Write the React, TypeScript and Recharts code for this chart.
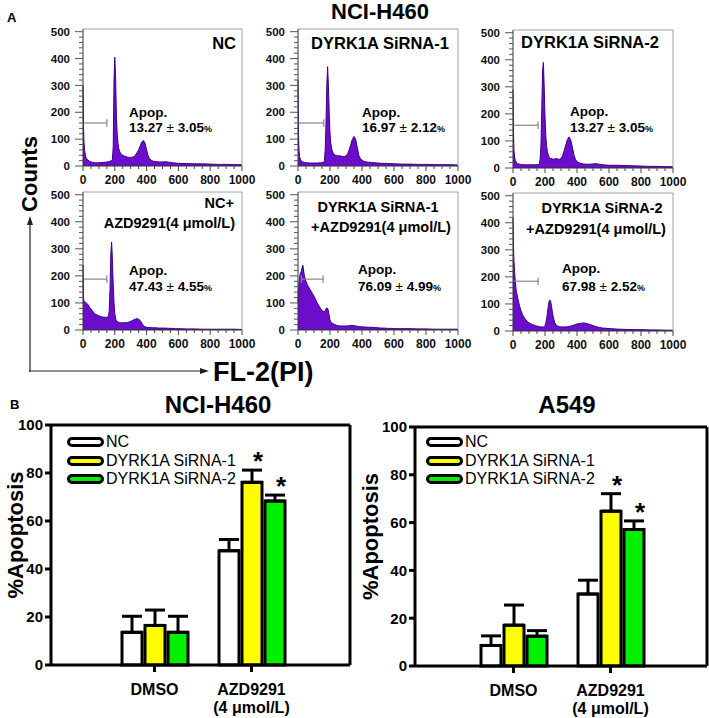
import React from 'react';
import {
  AreaChart,
  Area,
  BarChart,
  Bar,
  ErrorBar,
  LabelList,
  Legend,
  Label,
  XAxis,
  YAxis,
  ReferenceLine,
} from 'recharts';

const FONT = '"Liberation Sans", Arial, Helvetica, sans-serif';

// ---- panel A: PI histograms (channel -> counts) ----
const histChannels = [
  0, 3, 6, 10, 15, 20,
  30, 40, 50, 60, 70, 80, 90, 100,
  120, 140, 150, 160,
  165, 170, 175, 180, 185, 190, 195, 200, 205, 210, 215, 220, 225, 230, 235, 240, 245, 250,
  260, 270, 280, 290, 300, 310, 320, 330, 340, 350, 360, 370, 380, 390, 400, 410, 420,
  440, 460, 480, 500, 520, 540, 560, 580, 600,
  650, 700, 750, 800, 850, 900, 950, 1000,
];

const ncCounts = [
  300, 150, 90, 60, 40, 30,
  22, 18, 15, 14, 13, 12, 12, 12,
  13, 14, 15, 16,
  17, 18, 19, 20, 25, 70, 320, 405, 330, 190, 120, 85, 65, 55, 50, 45, 42, 40,
  37, 35, 33, 32, 32, 33, 35, 40, 50, 60, 75, 90, 95, 85, 60, 38, 25,
  18, 16, 15, 15, 16, 14, 12, 11, 10,
  9, 8, 8, 7, 6, 6, 5, 5,
];

const si1Counts = [
  320, 120, 60, 35, 25, 20,
  15, 13, 12, 12, 11, 11, 11, 11,
  11, 12, 12, 13,
  20, 60, 160, 300, 370, 300, 200, 120, 85, 65, 55, 48, 45, 42, 40, 40, 38, 38,
  38, 37, 35, 35, 38, 45, 60, 80, 100, 110, 100, 70, 40, 28, 22, 18, 16,
  14, 13, 12, 11, 10, 10, 9, 9, 8,
  7, 7, 6, 6, 5, 5, 5, 4,
];

const si2Counts = [
  290, 130, 65, 40, 28, 22,
  16, 14, 13, 12, 12, 12, 12, 12,
  12, 12, 12, 13,
  15, 35, 90, 220, 360, 390, 300, 190, 120, 80, 60, 50, 42, 38, 35, 35, 33, 33,
  33, 35, 33, 32, 35, 45, 65, 85, 105, 115, 105, 80, 50, 32, 24, 20, 18,
  15, 14, 14, 15, 16, 14, 12, 11, 10,
  10, 9, 8, 7, 6, 6, 5, 5,
];

const ncAzdCounts = [
  240, 120, 105, 105, 103, 100,
  95, 85, 78, 70, 62, 58, 55, 52,
  48, 47, 47, 50,
  70, 150, 280, 325, 260, 170, 100, 60, 42, 35, 32, 30, 28, 28, 27, 27, 27, 27,
  27, 27, 28, 30, 32, 35, 38, 40, 42, 40, 35, 25, 16, 12, 10, 9, 9,
  8, 8, 7, 7, 7, 6, 6, 5, 5,
  4, 4, 3, 3, 3, 3, 3, 2,
];

const si1AzdCounts = [
  105, 140, 170, 195, 210, 215,
  240, 200, 180, 165, 155, 145, 135, 125,
  100, 80, 72, 68,
  68, 72, 78, 82, 80, 70, 52, 38, 30, 27, 25, 23, 22, 20, 19, 18, 17, 16,
  15, 15, 15, 15, 15, 15, 16, 17, 17, 16, 15, 14, 13, 12, 12, 11, 11,
  10, 10, 9, 8, 7, 7, 6, 6, 5,
  5, 5, 4, 4, 3, 3, 3, 3,
];

const si2AzdCounts = [
  420, 320, 260, 215, 180, 150,
  120, 95, 75, 60, 50, 42, 35, 30,
  24, 20, 18, 17,
  16, 16, 15, 15, 15, 15, 16, 20, 30, 45, 65, 90, 108, 115, 110, 95, 75, 55,
  32, 22, 18, 16, 15, 15, 15, 15, 16, 17, 18, 20, 22, 24, 26, 27, 28,
  30, 28, 24, 20, 16, 13, 11, 10, 9,
  7, 6, 5, 5, 4, 4, 3, 3,
];

const histCounts = [ncCounts, si1Counts, si2Counts, ncAzdCounts, si1AzdCounts, si2AzdCounts];

const histXTicks = [0, 50, 100, 150, 200, 250, 300, 350, 400, 450, 500, 550, 600, 650, 700, 750, 800, 850, 900, 950, 1000];
const histYTicks = [0, 20, 40, 60, 80, 100, 120, 140, 160, 180, 200, 220, 240, 260, 280, 300, 320, 340, 360, 380, 400, 420, 440, 460, 480, 500];

const histTitles = [
  ['NC'],
  ['DYRK1A SiRNA-1'],
  ['DYRK1A SiRNA-2'],
  ['NC+', 'AZD9291(4 μmol/L)'],
  ['DYRK1A SiRNA-1', '+AZD9291(4 μmol/L)'],
  ['DYRK1A SiRNA-2', '+AZD9291(4 μmol/L)'],
];
const apopMeans = ['13.27', '16.97', '13.27', '47.43', '76.09', '67.98'];
const apopSds = ['3.05', '2.12', '3.05', '4.55', '4.99', '2.52'];

// apoptotic gate marker
const gateFrom = [0, 0, 0, 0, 21, 0];
const gateTo = [150, 161, 157, 150, 157, 157];
const gateLevel = [160, 160, 158, 188, 188, 184];

// ---- panel B: % apoptosis bars ----
const groups = ['DMSO', 'AZD9291'];
const groupSub = ['', '(4 μmol/L)'];
const seriesNames = ['NC', 'DYRK1A SiRNA-1', 'DYRK1A SiRNA-2'];
const seriesFill = ['#ffffff', '#ffff00', '#00f000'];
const apopTicks = [0, 20, 40, 60, 80, 100];

const h460NC = [13.6, 47.6];
const h460Si1 = [16.5, 76.1];
const h460Si2 = [13.6, 68.3];
const h460NCErr = [6.7, 4.7];
const h460Si1Err = [6.4, 5.1];
const h460Si2Err = [6.7, 2.5];

const a549NC = [8.6, 30.1];
const a549Si1 = [17.1, 64.8];
const a549Si2 = [12.5, 57.1];
const a549NCErr = [4.0, 5.8];
const a549Si1Err = [8.4, 7.3];
const a549Si2Err = [2.3, 3.6];

const si1Star = [false, true];
const si2Star = [false, true];

// ---- layout ----
const histLayout = [
  { box: { left: 43, top: 24, width: 216, height: 166 }, titles: [{ x: 236, y: 43, anchor: 'end', size: 16.5 }], apop: { x: 129, y1: 113, y2: 128 } },
  { box: { left: 258, top: 24, width: 217, height: 166 }, titles: [{ x: 380, y: 43, anchor: 'middle', size: 16.5 }], apop: { x: 362, y1: 113, y2: 128 } },
  { box: { left: 473, top: 25, width: 217, height: 167 }, titles: [{ x: 590, y: 42, anchor: 'middle', size: 16.5 }], apop: { x: 570, y1: 112, y2: 128 } },
  {
    box: { left: 43, top: 187, width: 216, height: 167 },
    titles: [{ x: 234, y: 203, anchor: 'end', size: 14.5 }, { x: 235, y: 223, anchor: 'end', size: 14.5 }],
    apop: { x: 129, y1: 271, y2: 287 },
  },
  {
    box: { left: 258, top: 187, width: 217, height: 167 },
    titles: [{ x: 378, y: 207, anchor: 'middle', size: 14.5 }, { x: 381, y: 227, anchor: 'middle', size: 14.5 }],
    apop: { x: 358, y1: 270, y2: 287 },
  },
  {
    box: { left: 473, top: 188, width: 217, height: 167 },
    titles: [{ x: 602, y: 208, anchor: 'middle', size: 14.5 }, { x: 596, y: 229, anchor: 'middle', size: 14.5 }],
    apop: { x: 562, y1: 269, y2: 287 },
  },
];

function Txt({ x, y, size, anchor = 'start', weight = 'bold', children }: any) {
  const tx = anchor === 'middle' ? '-50%' : anchor === 'end' ? '-100%' : '0';
  return (
    <div
      style={{
        position: 'absolute',
        left: x,
        top: y,
        transform: `translate(${tx}, -50%)`,
        fontSize: size,
        fontWeight: weight,
        lineHeight: 1,
        whiteSpace: 'nowrap',
      }}
    >
      {children}
    </div>
  );
}

function HistXTick(props: any) {
  const { x, y, payload } = props;
  const v = payload.value;
  const major = v % 200 === 0;
  return (
    <g>
      <line x1={x} x2={x} y1={y} y2={y + (major ? 5 : 3)} stroke="#444" />
      {major ? (
        <text x={x} y={y + 18} textAnchor="middle" fontFamily={FONT} fontSize={12} fontWeight="bold" fill="#111">
          {v}
        </text>
      ) : null}
    </g>
  );
}

function HistYTick(props: any) {
  const { x, y, payload } = props;
  const v = payload.value;
  const major = v % 100 === 0;
  return (
    <g>
      <line x1={x - (major ? 8 : 4)} x2={x} y1={y} y2={y} stroke="#555" />
      {major ? (
        <text x={x - 13} y={y} dy="0.36em" textAnchor="end" fontFamily={FONT} fontSize={11.5} fontWeight="bold" fill="#111">
          {v}
        </text>
      ) : null}
    </g>
  );
}

function Histogram({ idx }: { idx: number }) {
  const { box } = histLayout[idx];
  const counts = histCounts[idx];
  const data = histChannels.map((ch, i) => ({ ch, count: counts[i] }));
  const lv = gateLevel[idx];
  return (
    <div style={{ position: 'absolute', left: box.left, top: box.top }}>
      <AreaChart width={box.width} height={box.height} data={data} margin={{ top: 5, right: 17, bottom: 0, left: 0 }}>
        <XAxis
          dataKey="ch"
          type="number"
          domain={[0, 1000]}
          ticks={histXTicks}
          interval={0}
          tickSize={0}
          tickMargin={0}
          height={24}
          tick={(p: any) => <HistXTick {...p} />}
          axisLine={{ stroke: '#333' }}
        />
        <YAxis
          type="number"
          domain={[0, 510]}
          ticks={histYTicks}
          interval={0}
          tickSize={0}
          tickMargin={0}
          width={40}
          tick={(p: any) => <HistYTick {...p} />}
          axisLine={{ stroke: '#333' }}
        />
        <ReferenceLine y={510} stroke="#a0a0a0" />
        <ReferenceLine x={1000} stroke="#a0a0a0" />
        <Area
          type="linear"
          dataKey="count"
          stroke="#3d0080"
          strokeWidth={1}
          fill="#6a0dcc"
          fillOpacity={1}
          dot={false}
          activeDot={false}
          isAnimationActive={false}
        />
        <ReferenceLine segment={[{ x: gateFrom[idx], y: lv }, { x: gateTo[idx], y: lv }]} stroke="#888" strokeWidth={1.2} />
        <ReferenceLine segment={[{ x: gateTo[idx], y: lv - 14 }, { x: gateTo[idx], y: lv + 14 }]} stroke="#888" strokeWidth={1.2} />
        {gateFrom[idx] > 0 ? (
          <ReferenceLine segment={[{ x: gateFrom[idx], y: lv - 14 }, { x: gateFrom[idx], y: lv + 14 }]} stroke="#888" strokeWidth={1.2} />
        ) : null}
      </AreaChart>
    </div>
  );
}

function HistText({ idx }: { idx: number }) {
  const { titles, apop } = histLayout[idx];
  return (
    <>
      {titles.map((t, i) => (
        <Txt key={i} x={t.x} y={t.y} size={t.size} anchor={t.anchor}>
          {histTitles[idx][i]}
        </Txt>
      ))}
      <Txt x={apop.x} y={apop.y1} size={13.5}>
        Apop.
      </Txt>
      <Txt x={apop.x} y={apop.y2} size={13.5}>
        {apopMeans[idx]} <span style={{ fontWeight: 'normal' }}>±</span> {apopSds[idx]}
        <span style={{ fontSize: 9 }}>%</span>
      </Txt>
    </>
  );
}

function GroupTick(props: any) {
  const { x, y, payload } = props;
  const i = groups.indexOf(payload.value);
  return (
    <g>
      <text x={x} y={y + 21} textAnchor="middle" fontFamily={FONT} fontSize={16} fontWeight="bold" fill="#000">
        {payload.value}
      </text>
      {groupSub[i] ? (
        <text x={x} y={y + 39} textAnchor="middle" fontFamily={FONT} fontSize={16} fontWeight="bold" fill="#000">
          {groupSub[i]}
        </text>
      ) : null}
    </g>
  );
}

function BarLegend() {
  return (
    <div style={{ fontFamily: FONT }}>
      {seriesNames.map((n, i) => (
        <div key={n} style={{ display: 'flex', alignItems: 'center', height: 18.5 }}>
          <div style={{ width: 31, height: 4, border: '3px solid #000', borderRadius: 5, background: seriesFill[i] }} />
          <span style={{ marginLeft: 2, fontSize: 16, lineHeight: 1, color: '#000' }}>{n}</span>
        </div>
      ))}
    </div>
  );
}

function starLabel(errs: number[], pxPerUnit: number) {
  return (p: any) => {
    if (!p.value) return null;
    const vb = p.viewBox ?? p;
    const bx = Number(p.x ?? vb.x);
    const by = Number(p.y ?? vb.y);
    const bw = Number(p.width ?? vb.width);
    const cx = bx + bw / 2 + 6;
    const top = by - errs[p.index] * pxPerUnit;
    return (
      <text x={cx} y={top} textAnchor="middle" fontFamily={FONT} fontSize={26} fontWeight="bold" fill="#000">
        *
      </text>
    );
  };
}

function yTitle(shift: number) {
  return (p: any) => {
    const vb = p.viewBox;
    const cx = vb.x + 23;
    const cy = vb.y + vb.height / 2 + shift;
    return (
      <text
        x={cx}
        y={cy}
        transform={`rotate(-90 ${cx} ${cy})`}
        textAnchor="middle"
        fontFamily={FONT}
        fontSize={22}
        fontWeight="bold"
        fill="#000"
      >
        %Apoptosis
      </text>
    );
  };
}

function ApopChart({ layout, nc, si1, si2, ncErr, si1Err, si2Err }: any) {
  const rows = groups.map((g, i) => ({
    group: g,
    nc: nc[i],
    si1: si1[i],
    si2: si2[i],
    ncErr: [0, ncErr[i]],
    si1Err: [0, si1Err[i]],
    si2Err: [0, si2Err[i]],
    si1Star: si1Star[i] ? '*' : '',
    si2Star: si2Star[i] ? '*' : '',
  }));
  const plotH = layout.height - layout.margin.top - layout.margin.bottom - 50;
  const px = plotH / 100;
  const axisStyle = { stroke: '#000', strokeWidth: 3 };
  return (
    <div style={{ position: 'absolute', left: layout.left, top: layout.top }}>
      <BarChart width={layout.width} height={layout.height} data={rows} margin={layout.margin} barGap={3}>
        <XAxis
          dataKey="group"
          padding={layout.pad}
          interval={0}
          height={50}
          tickSize={7}
          tickMargin={2}
          tick={(p: any) => <GroupTick {...p} />}
          tickLine={axisStyle}
          axisLine={axisStyle}
        />
        <YAxis
          domain={[0, 100]}
          ticks={apopTicks}
          interval={0}
          width={layout.yAxisWidth}
          tickSize={6}
          tickMargin={2}
          tick={{ fontSize: 15, fontWeight: 'bold', fill: '#000', fontFamily: FONT }}
          tickLine={axisStyle}
          axisLine={axisStyle}
        >
          <Label content={yTitle(-10)} />
        </YAxis>
        <YAxis yAxisId="frame" orientation="right" width={1} domain={[0, 100]} tick={false} tickLine={false} axisLine={axisStyle} />
        <ReferenceLine y={100} stroke="#000" strokeWidth={3} />
        <Legend
          layout="horizontal"
          verticalAlign="middle"
          align="center"
          wrapperStyle={{ left: layout.legendLeft, top: 38, width: 200 }}
          content={() => <BarLegend />}
        />
        <Bar dataKey="nc" name={seriesNames[0]} fill={seriesFill[0]} stroke="#000" strokeWidth={3} barSize={20} isAnimationActive={false}>
          <ErrorBar dataKey="ncErr" direction="y" width={10} stroke="#000" strokeWidth={3} isAnimationActive={false} />
        </Bar>
        <Bar dataKey="si1" name={seriesNames[1]} fill={seriesFill[1]} stroke="#000" strokeWidth={3} barSize={20} isAnimationActive={false}>
          <ErrorBar dataKey="si1Err" direction="y" width={10} stroke="#000" strokeWidth={3} isAnimationActive={false} />
          <LabelList dataKey="si1Star" content={starLabel(si1Err, px)} />
        </Bar>
        <Bar dataKey="si2" name={seriesNames[2]} fill={seriesFill[2]} stroke="#000" strokeWidth={3} barSize={20} isAnimationActive={false}>
          <ErrorBar dataKey="si2Err" direction="y" width={10} stroke="#000" strokeWidth={3} isAnimationActive={false} />
          <LabelList dataKey="si2Star" content={starLabel(si2Err, px)} />
        </Bar>
      </BarChart>
    </div>
  );
}

const leftBarLayout = {
  left: 0,
  top: 395,
  width: 353,
  height: 323,
  margin: { top: 30, right: 2, bottom: 3, left: 0 },
  yAxisWidth: 51,
  pad: { left: 55, right: 50 },
  legendLeft: 67,
};
const rightBarLayout = {
  left: 355,
  top: 395,
  width: 354,
  height: 323,
  margin: { top: 32, right: 1, bottom: 2, left: 0 },
  yAxisWidth: 60,
  pad: { left: 50, right: 48 },
  legendLeft: 71,
};

export default function App() {
  return (
    <div
      style={{
        position: 'absolute',
        left: 0,
        top: 0,
        width: 709,
        height: 718,
        background: '#fff',
        overflow: 'hidden',
        fontFamily: FONT,
        color: '#000',
      }}
    >
      <Txt x={7} y={17} size={13}>
        A
      </Txt>
      <Txt x={380} y={12} size={22} anchor="middle">
        NCI-H460
      </Txt>

      {histLayout.map((_, i) => (
        <Histogram key={i} idx={i} />
      ))}
      {histLayout.map((_, i) => (
        <HistText key={'t' + i} idx={i} />
      ))}

      <svg width={709} height={718} style={{ position: 'absolute', left: 0, top: 0, pointerEvents: 'none' }}>
        <line x1={30} y1={372} x2={30} y2={222} stroke="#222" strokeWidth={1.2} />
        <polygon points="30,216 27,225 33,225" fill="#222" />
        <line x1={29} y1={371} x2={203} y2={371} stroke="#222" strokeWidth={1.2} />
        <polygon points="209,371 200,368 200,374" fill="#222" />
      </svg>
      <div
        style={{
          position: 'absolute',
          left: 30,
          top: 174,
          transform: 'translate(-50%, -50%) rotate(-90deg)',
          fontSize: 22,
          fontWeight: 'bold',
          lineHeight: 1,
          whiteSpace: 'nowrap',
        }}
      >
        Counts
      </div>
      <Txt x={213} y={372} size={27}>
        FL-2(PI)
      </Txt>

      <Txt x={10} y={404} size={13}>
        B
      </Txt>
      <Txt x={218} y={405} size={24} anchor="middle">
        NCI-H460
      </Txt>
      <Txt x={567} y={405} size={24} anchor="middle">
        A549
      </Txt>

      <ApopChart
        layout={leftBarLayout}
        nc={h460NC}
        si1={h460Si1}
        si2={h460Si2}
        ncErr={h460NCErr}
        si1Err={h460Si1Err}
        si2Err={h460Si2Err}
      />
      <ApopChart
        layout={rightBarLayout}
        nc={a549NC}
        si1={a549Si1}
        si2={a549Si2}
        ncErr={a549NCErr}
        si1Err={a549Si1Err}
        si2Err={a549Si2Err}
      />
    </div>
  );
}
